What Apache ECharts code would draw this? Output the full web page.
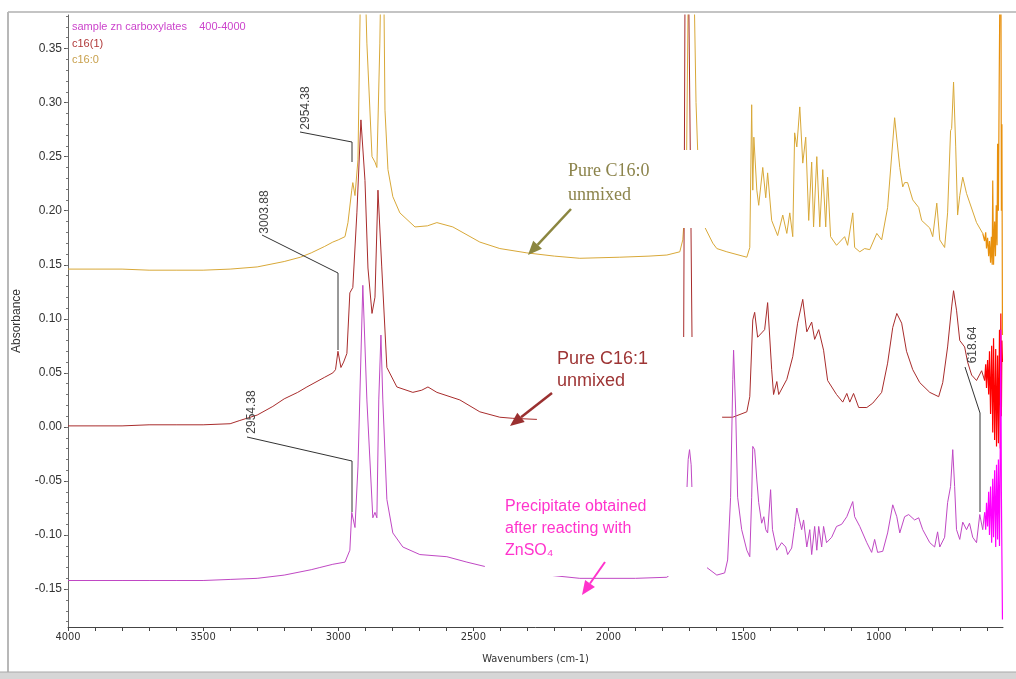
<!DOCTYPE html>
<html><head><meta charset="utf-8">
<script src="https://cdn.jsdelivr.net/npm/echarts@6/dist/echarts.min.js"></script>
<style>html,body{margin:0;padding:0;background:#fff}#c{width:1016px;height:679px}</style>
</head><body><div id="c"></div>
<script>
// ---- tick labels ----
const xTickLabels = [4000, 3500, 3000, 2500, 2000, 1500, 1000];
const yTickLabels = [-0.15, -0.10, -0.05, 0.00, 0.05, 0.10, 0.15, 0.20, 0.25, 0.30, 0.35];
const xMinorTicks = [];
for (let v = 600; v <= 4000; v += 100) xMinorTicks.push(v);
const yMinorTicks = [];
for (let k = -18; k <= 38; k++) yMinorTicks.push(k / 100);

// ---- series values: [wavenumber (cm-1), absorbance] ----
const c160Main = [[4000,0.146],[3900,0.146],[3800,0.146],[3700,0.145],[3600,0.145],[3500,0.145],[3400,0.146],[3300,0.148],[3200,0.153],[3140,0.157],[3100,0.161],[3050,0.167],[3020,0.171],[3000,0.173],[2975,0.176],[2964,0.189],[2950,0.219],[2946,0.226],[2938,0.214],[2927,0.247],[2918,0.40],[2912,0.46],[2901,0.42],[2894,0.355],[2875,0.250],[2864,0.245],[2857,0.240],[2846,0.355],[2840,0.45],[2831,0.40],[2827,0.293],[2816,0.238],[2798,0.213],[2772,0.198],[2716,0.185],[2670,0.186],[2635,0.189],[2576,0.185],[2476,0.171],[2402,0.165],[2302,0.161],[2200,0.158],[2106,0.156],[1958,0.157],[1850,0.158],[1784,0.159],[1736,0.162],[1725,0.173],[1712,0.22],[1703,0.45],[1686,0.45],[1676,0.30],[1665,0.22],[1644,0.185],[1614,0.170],[1599,0.165],[1562,0.162],[1488,0.157],[1477,0.166],[1470,0.298],[1466,0.219],[1462,0.268],[1451,0.219],[1444,0.205],[1429,0.240],[1418,0.212],[1411,0.235],[1396,0.191],[1374,0.177],[1355,0.196],[1340,0.179],[1329,0.198],[1318,0.176],[1311,0.272],[1303,0.259],[1292,0.296],[1281,0.244],[1270,0.268],[1259,0.191],[1248,0.245],[1241,0.185],[1229,0.250],[1218,0.185],[1207,0.238],[1196,0.185],[1189,0.231],[1178,0.176],[1156,0.168],[1126,0.176],[1115,0.168],[1096,0.198],[1089,0.166],[1070,0.162],[1052,0.165],[1033,0.164],[1007,0.179],[989,0.173],[967,0.203],[941,0.286],[922,0.240],[911,0.222],[904,0.226],[893,0.226],[874,0.210],[852,0.203],[841,0.191],[811,0.184],[800,0.176],[785,0.207],[774,0.173],[756,0.166],[745,0.198],[734,0.274],[730,0.276],[723,0.319],[715,0.259],[708,0.196],[700,0.214],[689,0.231],[675,0.216],[638,0.189],[615,0.179]];
const c160Tail = [[615,0.179],[608,0.172],[604,0.180],[601,0.165],[597,0.175],[593,0.158],[590,0.172],[586,0.152],[583,0.176],[580,0.150],[578,0.228],[575,0.150],[571,0.190],[568,0.158],[565,0.205],[562,0.168],[560,0.262],[557,0.200],[554,0.321],[551,0.42],[548,0.46],[546,0.20],[544,0.28],[542,0.085]];

const c161Main = [[4000,0.001],[3900,0.001],[3800,0.001],[3700,0.002],[3600,0.002],[3500,0.002],[3400,0.003],[3364,0.006],[3300,0.011],[3242,0.019],[3200,0.026],[3150,0.032],[3116,0.037],[3050,0.046],[3020,0.050],[3010,0.053],[3001,0.070],[2990,0.055],[2980,0.060],[2968,0.068],[2957,0.124],[2946,0.129],[2931,0.198],[2916,0.284],[2901,0.228],[2890,0.147],[2875,0.105],[2864,0.120],[2853,0.219],[2839,0.148],[2820,0.055],[2783,0.037],[2724,0.032],[2691,0.034],[2668,0.037],[2635,0.032],[2550,0.025],[2476,0.014],[2402,0.009],[2354,0.008],[2265,0.007],[2100,0.006],[1900,0.006],[1770,0.008],[1735,0.012],[1722,0.06],[1716,0.45],[1705,0.45],[1697,0.25],[1690,0.06],[1675,0.015],[1620,0.009],[1577,0.009],[1540,0.009],[1488,0.014],[1477,0.028],[1466,0.099],[1459,0.106],[1448,0.083],[1433,0.087],[1422,0.090],[1411,0.115],[1396,0.053],[1389,0.030],[1377,0.042],[1370,0.030],[1340,0.044],[1318,0.065],[1300,0.096],[1281,0.118],[1266,0.088],[1248,0.097],[1237,0.081],[1222,0.090],[1204,0.071],[1189,0.043],[1156,0.030],[1133,0.023],[1118,0.031],[1107,0.023],[1093,0.031],[1074,0.018],[1044,0.018],[1022,0.022],[989,0.032],[967,0.059],[948,0.092],[933,0.105],[915,0.096],[897,0.070],[874,0.053],[848,0.041],[811,0.032],[778,0.028],[763,0.041],[745,0.074],[730,0.111],[723,0.126],[712,0.108],[700,0.080],[682,0.074],[671,0.060],[656,0.048],[638,0.043],[619,0.052],[608,0.043]];
const c161Tail = [[608,0.043],[604,0.058],[601,0.036],[597,0.062],[593,0.030],[590,0.070],[586,0.012],[582,0.075],[578,-0.005],[575,0.082],[571,-0.012],[567,0.072],[564,-0.018],[560,0.066],[557,-0.015],[553,0.090],[550,-0.020],[548,0.105],[546,0.010],[544,0.080],[542,0.060]];

const precipMain = [[4000,-0.142],[3900,-0.142],[3800,-0.142],[3700,-0.142],[3600,-0.142],[3500,-0.142],[3400,-0.141],[3300,-0.140],[3200,-0.137],[3100,-0.132],[3068,-0.130],[3020,-0.127],[2975,-0.125],[2957,-0.114],[2950,-0.079],[2938,-0.093],[2927,-0.037],[2909,0.131],[2894,0.025],[2872,-0.084],[2864,-0.079],[2857,-0.084],[2850,0.025],[2842,0.085],[2835,0.025],[2820,-0.067],[2798,-0.098],[2761,-0.111],[2698,-0.118],[2598,-0.120],[2524,-0.125],[2458,-0.129],[2300,-0.135],[2106,-0.140],[1900,-0.140],[1784,-0.139],[1740,-0.130],[1715,-0.090],[1705,-0.030],[1700,-0.021],[1694,-0.035],[1688,-0.080],[1678,-0.115],[1660,-0.128],[1636,-0.130],[1599,-0.137],[1570,-0.135],[1559,-0.123],[1548,-0.065],[1540,0.044],[1537,0.071],[1529,0.013],[1522,-0.065],[1507,-0.095],[1488,-0.114],[1477,-0.120],[1470,-0.065],[1466,-0.018],[1459,-0.021],[1451,-0.049],[1444,-0.070],[1433,-0.089],[1425,-0.083],[1418,-0.095],[1411,-0.098],[1400,-0.058],[1393,-0.095],[1377,-0.114],[1359,-0.107],[1344,-0.111],[1337,-0.118],[1322,-0.112],[1311,-0.092],[1303,-0.075],[1296,-0.083],[1285,-0.095],[1278,-0.086],[1266,-0.111],[1255,-0.095],[1248,-0.118],[1237,-0.092],[1229,-0.114],[1222,-0.092],[1211,-0.111],[1204,-0.092],[1193,-0.107],[1174,-0.102],[1156,-0.092],[1137,-0.090],[1118,-0.083],[1096,-0.069],[1089,-0.083],[1070,-0.092],[1044,-0.107],[1026,-0.116],[1015,-0.104],[1004,-0.116],[985,-0.115],[967,-0.098],[948,-0.072],[933,-0.083],[922,-0.098],[904,-0.083],[889,-0.081],[867,-0.086],[852,-0.084],[837,-0.095],[811,-0.107],[793,-0.111],[782,-0.097],[774,-0.111],[756,-0.102],[745,-0.070],[734,-0.055],[726,-0.021],[719,-0.055],[712,-0.095],[700,-0.104],[689,-0.088],[675,-0.095],[664,-0.089],[652,-0.102],[638,-0.107],[626,-0.081],[615,-0.095],[608,-0.079]];
const precipTail = [[608,-0.079],[604,-0.095],[601,-0.070],[597,-0.092],[593,-0.060],[590,-0.100],[586,-0.055],[582,-0.107],[578,-0.048],[575,-0.102],[571,-0.040],[567,-0.111],[564,-0.035],[560,-0.104],[557,-0.030],[553,-0.110],[550,-0.012],[548,0.090],[546,-0.060],[544,-0.120],[542,-0.178]];

const FONT = "'Liberation Sans', Arial, sans-serif";
const NARROW = "'Liberation Sans Narrow', 'DejaVu Sans Condensed', 'Liberation Sans', sans-serif";

function arrow(x1, y1, x2, y2, color, w) {
  const a = Math.atan2(y2 - y1, x2 - x1), L = 14, H = 6;
  const bx = x2 - L * Math.cos(a), by = y2 - L * Math.sin(a);
  const px = -Math.sin(a) * H, py = Math.cos(a) * H;
  return [
    { type: 'line', z: 120, shape: { x1: x1, y1: y1, x2: bx, y2: by }, style: { stroke: color, lineWidth: w } },
    { type: 'polygon', z: 120, shape: { points: [[x2, y2], [bx + px, by + py], [bx - px, by - py]] }, style: { fill: color } }
  ];
}
function vtext(x, y, t) {
  return { type: 'text', z: 110, x: x, y: y, rotation: Math.PI / 2,
    style: { text: t, fill: '#444', font: "12px " + FONT, textAlign: 'center', textVerticalAlign: 'middle' } };
}
function leader(pts) {
  return { type: 'polyline', z: 110, shape: { points: pts }, style: { stroke: '#333', lineWidth: 1, fill: null } };
}
function box(x, y, w, h) {
  return { type: 'rect', z: 100, shape: { x: x, y: y, width: w, height: h }, style: { fill: '#fff' } };
}

const graphics = [
  // window frame
  { type: 'line', z: 50, shape: { x1: 8, y1: 12, x2: 1016, y2: 12 }, style: { stroke: '#c4c4c4', lineWidth: 2 } },
  { type: 'line', z: 50, shape: { x1: 8, y1: 12, x2: 8, y2: 672 }, style: { stroke: '#b8b8b8', lineWidth: 2 } },
  { type: 'rect', z: 50, shape: { x: 0, y: 672, width: 1016, height: 7 }, style: { fill: '#d6d6d6' } },
  { type: 'line', z: 50, shape: { x1: 0, y1: 672, x2: 1016, y2: 672 }, style: { stroke: '#a8a8a8', lineWidth: 1 } },
  // legend texts
  { type: 'text', z: 110, x: 72, y: 27, style: { text: 'sample zn carboxylates    400-4000', fill: '#cc44cc', font: "11px " + FONT, textVerticalAlign: 'middle' } },
  { type: 'text', z: 110, x: 72, y: 44, style: { text: 'c16(1)', fill: '#b03838', font: "11px " + FONT, textVerticalAlign: 'middle' } },
  { type: 'text', z: 110, x: 72, y: 60, style: { text: 'c16:0', fill: '#c8a04c', font: "11px " + FONT, textVerticalAlign: 'middle' } },
  // peak labels
  leader([[300, 132], [352, 142], [352, 162]]), vtext(306, 108, '2954.38'),
  leader([[262, 235], [338, 273], [338, 350]]), vtext(265, 212, '3003.88'),
  leader([[247, 437], [352, 461], [352, 512]]), vtext(252, 412, '2954.38'),
  leader([[965, 367], [980, 413], [980, 512]]), vtext(973, 345, '618.64'),
  // annotation boxes
  box(545, 150, 165, 78),
  box(537, 337, 185, 91),
  box(485, 487, 222, 89),
  { type: 'text', z: 115, x: 568, y: 171, style: { text: 'Pure C16:0', fill: '#8c844c', font: "18px 'Liberation Serif', 'Times New Roman', serif", textVerticalAlign: 'middle' } },
  { type: 'text', z: 115, x: 568, y: 195, style: { text: 'unmixed', fill: '#8c844c', font: "18px 'Liberation Serif', 'Times New Roman', serif", textVerticalAlign: 'middle' } },
  { type: 'text', z: 115, x: 557, y: 359, style: { text: 'Pure C16:1', fill: '#9e3535', font: "18px " + FONT, textVerticalAlign: 'middle' } },
  { type: 'text', z: 115, x: 557, y: 381, style: { text: 'unmixed', fill: '#9e3535', font: "18px " + FONT, textVerticalAlign: 'middle' } },
  { type: 'text', z: 115, x: 505, y: 507, style: { text: 'Precipitate obtained', fill: '#ff33cc', font: "16px " + FONT, textVerticalAlign: 'middle' } },
  { type: 'text', z: 115, x: 505, y: 529, style: { text: 'after reacting with', fill: '#ff33cc', font: "16px " + FONT, textVerticalAlign: 'middle' } },
  { type: 'text', z: 115, x: 505, y: 551, style: { text: 'ZnSO\u2084', fill: '#ff33cc', font: "16px " + FONT, textVerticalAlign: 'middle' } }
].concat(
  arrow(571, 209, 528, 255, '#8b8640', 2.5),
  arrow(552, 393, 510, 426, '#9a3030', 2.5),
  arrow(605, 562, 582, 595, '#ff33cc', 2)
);

function line(name, data, color, w) {
  return { name: name, type: 'line', data: data, showSymbol: false, symbol: 'none', clip: true,
    lineStyle: { color: color, width: w }, itemStyle: { color: color }, animation: false, z: 3 };
}

const chart = echarts.init(document.getElementById('c'), null, { renderer: 'canvas' });
chart.setOption({
  animation: false,
  backgroundColor: '#fff',
  grid: { left: 68, right: 13, top: 15, bottom: 52 },
  xAxis: [{
    type: 'value', min: 540, max: 4000, inverse: true,
    axisLine: { onZero: false, lineStyle: { color: '#444', width: 1 } },
    axisTick: { customValues: xMinorTicks, length: 4, lineStyle: { color: '#444' } },
    axisLabel: { customValues: xTickLabels, formatter: v => String(v), fontFamily: NARROW, fontSize: 11, color: '#333', margin: 5 },
    splitLine: { show: false },
    name: 'Wavenumbers (cm-1)', nameLocation: 'middle', nameGap: 27,
    nameTextStyle: { fontFamily: NARROW, fontSize: 11, color: '#333' }
  }],
  yAxis: [{
    type: 'value', min: -0.185, max: 0.381,
    axisLine: { show: true, onZero: false, lineStyle: { color: '#666', width: 1 } },
    axisTick: { customValues: yTickLabels, length: 4, lineStyle: { color: '#555' } },
    axisLabel: { customValues: yTickLabels, formatter: v => v.toFixed(2), fontFamily: FONT, fontSize: 12, color: '#333', margin: 6 },
    splitLine: { show: false },
    name: 'Absorbance', nameLocation: 'middle', nameGap: 45,
    nameTextStyle: { fontFamily: FONT, fontSize: 12, color: '#333' }
  }, {
    type: 'value', min: -0.185, max: 0.381, position: 'left',
    axisLine: { show: false, onZero: false },
    axisTick: { show: true, customValues: yMinorTicks, length: 2, lineStyle: { color: '#777' } },
    axisLabel: { show: false }, splitLine: { show: false }
  }],
  series: [
    line('c16:0', c160Main, '#d8a838', 1),
    line('c16:0 tail', c160Tail, '#e8900c', 1.2),
    line('c16(1)', c161Main, '#a82c2c', 1),
    line('c16(1) tail', c161Tail, '#ff0000', 1.2),
    line('precipitate', precipMain, '#c048c4', 1),
    line('precipitate tail', precipTail, '#ff00ff', 1.2)
  ],
  graphic: graphics
});
</script></body></html>
